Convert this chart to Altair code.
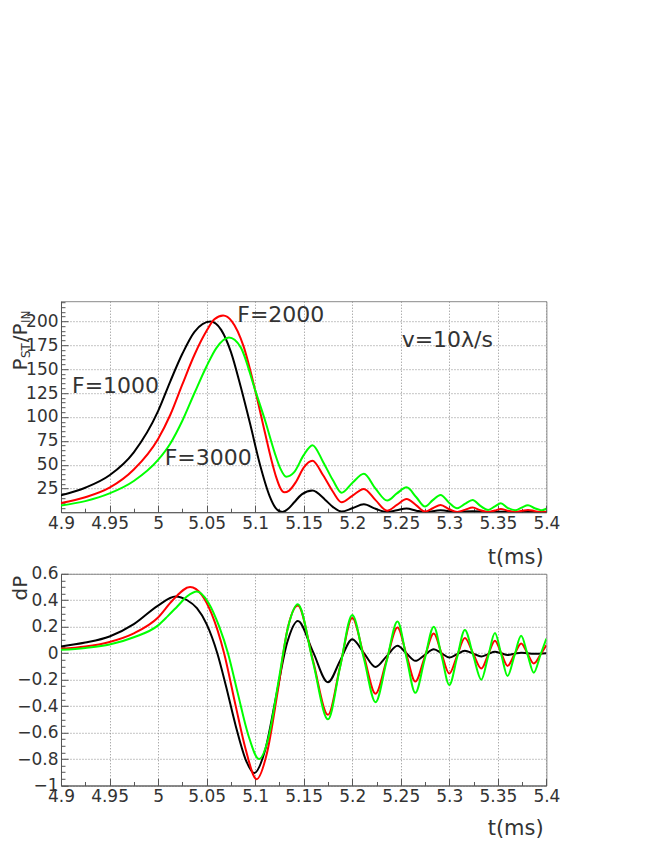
import altair as alt
import pandas as pd

# ---------------- data ----------------
series_names = ["F=1000", "F=2000", "F=3000"]
series_colors = ["#000000", "#ff0000", "#00ff00"]

# upper panel: P_ST / P_IN
top_t_1000 = [4.9, 4.925, 4.95, 4.975, 5.0, 5.0125, 5.025, 5.0375, 5.054, 5.065, 5.075, 5.085,
              5.095, 5.105, 5.115, 5.121, 5.128, 5.134, 5.14, 5.148, 5.159, 5.172, 5.18, 5.189,
              5.2, 5.212, 5.224, 5.236, 5.246, 5.256, 5.266, 5.275, 5.291, 5.308, 5.324, 5.34,
              5.353, 5.368, 5.381, 5.4]
top_v_1000 = [18, 26, 39, 63, 106, 137, 166, 189, 199.7, 191, 168, 132,
              92, 50, 17, 5, 0.6, 4, 10.5, 19, 23, 13.5, 6, 1,
              4.5, 8.7, 4, 0.6, 2.5, 4.2, 2, 0.6, 2.4, 0.6, 1.4, 0.6,
              0.9, 0.6, 0.7, 0.6]

top_t_2000 = [4.9, 4.925, 4.95, 4.975, 5.0, 5.0125, 5.025, 5.0375, 5.05, 5.058, 5.067, 5.076,
              5.088, 5.1, 5.11, 5.117, 5.122, 5.126, 5.13, 5.135, 5.142, 5.15, 5.159, 5.17,
              5.18, 5.189, 5.2, 5.212, 5.224, 5.236, 5.246, 5.256, 5.266, 5.275, 5.283, 5.291,
              5.3, 5.308, 5.316, 5.324, 5.332, 5.34, 5.347, 5.353, 5.36, 5.368, 5.375, 5.381,
              5.388, 5.395, 5.4]
top_v_2000 = [10, 16, 26, 45, 77, 102, 134, 165, 190, 202, 206, 200,
              174, 128, 84, 54, 36, 25.5, 21.2, 23, 32, 47, 54.2, 39,
              22, 10.8, 17.5, 24.7, 13, 2, 8, 14.2, 7.5, 1, 4.5, 8,
              3.5, 0.7, 2.8, 5.2, 2.5, 0.6, 2.2, 3.8, 2, 0.6, 1.8, 2.8,
              1.5, 0.6, 0.9]

top_t_3000 = [4.9, 4.925, 4.95, 4.975, 5.0, 5.0125, 5.025, 5.0375, 5.05, 5.06, 5.073, 5.085,
              5.1, 5.11, 5.12, 5.126, 5.132, 5.14, 5.15, 5.159, 5.17, 5.18, 5.189, 5.2,
              5.212, 5.224, 5.236, 5.246, 5.256, 5.266, 5.275, 5.283, 5.291, 5.3, 5.308, 5.316,
              5.324, 5.332, 5.34, 5.347, 5.353, 5.36, 5.368, 5.375, 5.381, 5.388, 5.395, 5.4]
top_v_3000 = [7.5, 12, 20, 33, 55, 72, 96, 125, 153, 172, 183, 173,
              128, 97, 63, 46, 37.5, 42, 60, 70.5, 53, 34, 20.8, 31,
              40.6, 25, 12.5, 20, 26.4, 16, 6.25, 13, 18.4, 10, 4.5, 9,
              13.2, 7, 2.8, 6.5, 9.7, 5, 2.4, 5.5, 7.6, 4.5, 2.5, 4]

# lower panel: dP
bot_t_1000 = [4.9, 4.925, 4.95, 4.975, 5.0, 5.018, 5.03, 5.04, 5.05, 5.061, 5.07, 5.08,
              5.09, 5.099, 5.11, 5.1215, 5.133, 5.144, 5.1595, 5.175, 5.1875, 5.2, 5.212, 5.224,
              5.2353, 5.2466, 5.2558, 5.265, 5.2745, 5.284, 5.292, 5.3, 5.308, 5.316, 5.3245, 5.333,
              5.34, 5.347, 5.3535, 5.36, 5.367, 5.374, 5.3805, 5.387, 5.4]
bot_v_1000 = [0.05, 0.08, 0.126, 0.22, 0.36, 0.428, 0.40, 0.34, 0.22, 0.0, -0.25, -0.55,
              -0.80, -0.906, -0.74, -0.33, 0.08, 0.244, 0.012, -0.22, -0.057, 0.106, 0.001, -0.104,
              -0.024, 0.056, -0.001, -0.058, -0.014, 0.03, -0.001, -0.033, -0.007, 0.018, -0.003, -0.025,
              -0.007, 0.01, -0.001, -0.013, -0.004, 0.004, -0.001, -0.005, 0.0]

bot_t_2000 = [4.9, 4.925, 4.95, 4.975, 5.0, 5.015, 5.033, 5.045, 5.055, 5.068, 5.08, 5.09,
              5.1015, 5.112, 5.123, 5.133, 5.144, 5.1595, 5.175, 5.1875, 5.2, 5.212, 5.224, 5.2353,
              5.2466, 5.2558, 5.265, 5.2745, 5.284, 5.292, 5.3, 5.308, 5.316, 5.3245, 5.333, 5.34,
              5.347, 5.3535, 5.36, 5.367, 5.374, 5.3805, 5.387, 5.394, 5.4]
bot_v_2000 = [0.033, 0.05, 0.085, 0.15, 0.27, 0.40, 0.50, 0.44, 0.30, 0.0, -0.40, -0.72,
              -0.952, -0.76, -0.30, 0.17, 0.36, -0.053, -0.466, -0.10, 0.266, -0.02, -0.306, -0.055,
              0.195, -0.01, -0.215, -0.033, 0.149, -0.003, -0.154, -0.02, 0.114, -0.001, -0.116, -0.011,
              0.094, -0.001, -0.096, -0.011, 0.073, -0.002, -0.078, -0.01, 0.061]

bot_t_3000 = [4.9, 4.925, 4.95, 4.975, 5.0, 5.01, 5.02, 5.03, 5.04, 5.052, 5.063, 5.072, 5.082,
              5.093, 5.104, 5.114, 5.124, 5.134, 5.144, 5.1595, 5.175, 5.1875, 5.2, 5.212, 5.224,
              5.2353, 5.2466, 5.2558, 5.265, 5.2745, 5.284, 5.292, 5.3, 5.308, 5.316, 5.3245, 5.333,
              5.34, 5.347, 5.3535, 5.36, 5.367, 5.374, 5.3805, 5.387, 5.394, 5.4]
bot_v_3000 = [0.025, 0.04, 0.065, 0.12, 0.21, 0.28, 0.355, 0.43, 0.466, 0.38, 0.20, 0.0, -0.30,
              -0.62, -0.80, -0.63, -0.215, 0.20, 0.37, -0.065, -0.50, -0.105, 0.289, -0.04, -0.37,
              -0.065, 0.24, -0.03, -0.30, -0.05, 0.20, -0.02, -0.24, -0.033, 0.175, -0.013, -0.20,
              -0.024, 0.152, -0.01, -0.172, -0.02, 0.132, -0.007, -0.147, -0.01, 0.11]

# axis tick values and labels
x_major = [4.9, 4.95, 5.0, 5.05, 5.1, 5.15, 5.2, 5.25, 5.3, 5.35, 5.4]
x_minor = [4.925, 4.975, 5.025, 5.075, 5.125, 5.175, 5.225, 5.275, 5.325, 5.375]
top_y_major = [25, 50, 75, 100, 125, 150, 175, 200]
top_y_minor = [v for v in range(5, 221, 5) if v % 25]
bot_y_major = [-1.0, -0.8, -0.6, -0.4, -0.2, 0.0, 0.2, 0.4, 0.6]
bot_y_minor = [round(-1 + 0.05 * i, 2) for i in range(33) if i % 4]
top_y_domain = [0.4, 221]
bot_y_domain = [-1.0, 0.6]
x_domain = [4.9, 5.4]

annotations = ["F=2000", "F=1000", "F=3000", "v=10\u03bb/s"]
x_title = "t(ms)"

# ---------------- styling ----------------
FONT = "DejaVu Sans"
TXT = "#333333"
W = 485.4
H_TOP = 211.0
H_BOT = 211.7
TX = -33.5  # baseline of the rotated y titles, relative to the plot's left edge


def series_frame(ts, vs, name):
    return pd.DataFrame({"t": ts, "v": vs, "series": name})


top_df = pd.concat([series_frame(top_t_1000, top_v_1000, series_names[0]),
                    series_frame(top_t_2000, top_v_2000, series_names[1]),
                    series_frame(top_t_3000, top_v_3000, series_names[2])])
bot_df = pd.concat([series_frame(bot_t_1000, bot_v_1000, series_names[0]),
                    series_frame(bot_t_2000, bot_v_2000, series_names[1]),
                    series_frame(bot_t_3000, bot_v_3000, series_names[2])])


def text_layer(label, x, y, size, angle=0, align="left"):
    kw = dict(font=FONT, fontSize=size, color=TXT, align=align, baseline="alphabetic")
    if angle:
        kw["angle"] = angle
    return alt.Chart(pd.DataFrame({"label": [label]})).mark_text(**kw).encode(
        text="label:N", x=alt.value(x), y=alt.value(y))


def panel(df, ydom, ymaj, ymin, yfmt, height, extra):
    xs = alt.Scale(domain=x_domain, nice=False, zero=False)
    ys = alt.Scale(domain=ydom, nice=False, zero=False)
    lines = alt.Chart(df).mark_line(strokeWidth=2, interpolate="monotone", clip=True).encode(
        x=alt.X("t:Q", scale=xs, axis=alt.Axis(
            orient="bottom", values=x_major, format="~g", title=None, grid=True,
            ticks=False, tickSize=0, labelPadding=3, labelFlush=False, labelOverlap=False,
            labelFont=FONT, labelFontSize=17, labelColor=TXT,
            gridColor="#8a8a8a", gridDash=[1, 2], gridWidth=1,
            domainColor="#555555")),
        y=alt.Y("v:Q", scale=ys, axis=alt.Axis(
            orient="left", values=ymaj, format=yfmt, title=None, grid=True,
            ticks=False, tickSize=0, labelPadding=3, labelFlush=False, labelOverlap=False,
            labelFont=FONT, labelFontSize=17, labelColor=TXT,
            gridColor="#8a8a8a", gridDash=[1, 2], gridWidth=1,
            domainColor="#555555")),
        color=alt.Color("series:N", scale=alt.Scale(domain=series_names, range=series_colors),
                        legend=None),
    )
    anchor = pd.DataFrame({"t": [5.15], "v": [(ydom[0] + ydom[1]) / 2]})

    def tick_layer(xvals, yvals, size):
        return alt.Chart(anchor).mark_point(opacity=0).encode(
            x=alt.X("t:Q", scale=xs, axis=alt.Axis(
                orient="bottom", values=xvals, offset=-size, tickSize=size, labels=False,
                domain=False, grid=False, title=None, tickColor="#555555")),
            y=alt.Y("v:Q", scale=ys, axis=alt.Axis(
                orient="left", values=yvals, offset=-size, tickSize=size, labels=False,
                domain=False, grid=False, title=None, tickColor="#555555")),
        )

    return alt.layer(lines, tick_layer(x_major, ymaj, 7), tick_layer(x_minor, ymin, 4), *extra
                     ).resolve_axis(x="independent", y="independent"
                                    ).properties(width=W, height=height)


top_extra = [
    text_layer(annotations[0], 176.3, 21.3, 22),
    text_layer(annotations[1], 11.0, 92.3, 22),
    text_layer(annotations[2], 103.7, 164.0, 22),
    text_layer(annotations[3], 340.7, 45.6, 22),
    text_layer(x_title, 482.7, 263.3, 21, align="right"),
    # y title  P_ST / P_IN  (rotated)
    text_layer("P", TX, 69.3, 20, angle=270),
    text_layer("ST", TX + 3, 56.8, 12, angle=270),
    text_layer("/", TX, 41.0, 20, angle=270),
    text_layer("P", TX, 34.3, 20, angle=270),
    text_layer("IN", TX + 3, 21.8, 12, angle=270),
]
bot_extra = [
    text_layer(x_title, 482.7, 261.7, 21, align="right"),
    text_layer("dP", TX, 26.7, 20, angle=270),
]

top = panel(top_df, top_y_domain, top_y_major, top_y_minor, "d", H_TOP, top_extra)
bot = panel(bot_df, bot_y_domain, bot_y_major, bot_y_minor, "~g", H_BOT, bot_extra)

chart = alt.vconcat(top, bot, spacing=61.6, bounds="flush").properties(
    padding={"left": 2, "top": 292.2, "right": 5, "bottom": 5}
).configure_view(stroke="#8a8a8a", strokeWidth=1)

chart.save("out.html", embed_options={"renderer": "svg", "actions": False})
